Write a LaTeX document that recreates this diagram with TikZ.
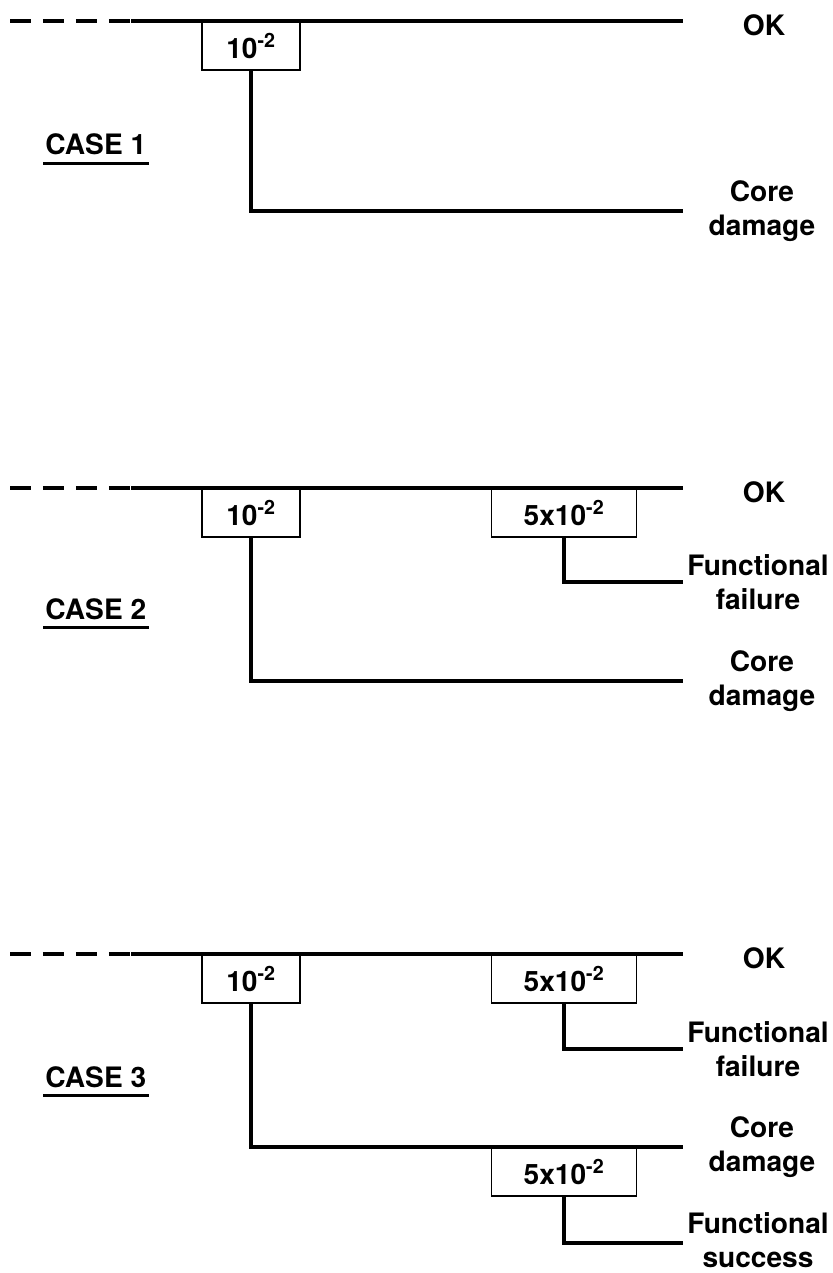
\documentclass[tikz,border=0pt]{standalone}
\usepackage{fontspec}
\setmainfont{TeX Gyre Heros}
\usetikzlibrary{positioning}
\tikzset{
  every picture/.style={line width=4.2pt},
  probbox/.style={draw, line width=1.5pt, anchor=north, inner sep=0pt, minimum width=#1, minimum height=1.44cm, font=\fontsize{24}{28}\selectfont\bfseries},
  probbox/.default=2.94cm,
  outcome/.style={align=center, font=\fontsize{24}{29}\selectfont\bfseries},
  lead/.style={dash pattern=on 17.9pt off 10.2pt},
  casetitle/.style={anchor=base west, inner sep=0pt, font=\fontsize{24}{28}\selectfont\bfseries,
    append after command={([yshift=-5pt]\tikzlastnode.south west) edge[line width=2.4pt] ([yshift=-5pt]\tikzlastnode.south east)}},
}

\begin{document}
\begin{tikzpicture}[x=0.03cm, y=-0.03cm]
  \useasboundingbox (0,0) rectangle (832,1273);

  % case 1
  \coordinate (c1start) at (10,21);
  \coordinate (c1dash) at (131,21);
  \coordinate (c1end) at (683,21);
  \coordinate (c1cd) at (683,211);
  \node[probbox] (c1p) at (251,21) {10\textsuperscript{-2}};
  \draw[lead] (c1start) -- (c1dash);
  \draw (c1dash) -- (c1end);
  \draw (c1p.south) |- (c1cd);
  \node[outcome] (c1ok) at (764,25) {OK};
  \node[outcome] (c1core) at (762,211) {Core\\damage};
  \node[casetitle] (c1title) at (43,155) {CASE 1};

  % case 2
  \coordinate (c2start) at (10,488);
  \coordinate (c2dash) at (131,488);
  \coordinate (c2end) at (683,488);
  \coordinate (c2ff) at (683,582);
  \coordinate (c2cd) at (683,681);
  \node[probbox] (c2p) at (251,488) {10\textsuperscript{-2}};
  \node[probbox=4.35cm] (c2q) at (564,488) {5x10\textsuperscript{-2}};
  \draw[lead] (c2start) -- (c2dash);
  \draw (c2dash) -- (c2end);
  \draw (c2q.south) |- (c2ff);
  \draw (c2p.south) |- (c2cd);
  \node[outcome] (c2ok) at (764,492) {OK};
  \node[outcome] (c2fail) at (758,582) {Functional\\failure};
  \node[outcome] (c2core) at (762,681) {Core\\damage};
  \node[casetitle] (c2title) at (43,619) {CASE 2};

  % case 3
  \coordinate (c3start) at (10,954);
  \coordinate (c3dash) at (131,954);
  \coordinate (c3end) at (683,954);
  \coordinate (c3ff) at (683,1049);
  \coordinate (c3cd) at (683,1147);
  \coordinate (c3fs) at (683,1243);
  \node[probbox] (c3p) at (251,954) {10\textsuperscript{-2}};
  \node[probbox=4.35cm] (c3q) at (564,954) {5x10\textsuperscript{-2}};
  \node[probbox=4.35cm] (c3r) at (564,1147) {5x10\textsuperscript{-2}};
  \draw[lead] (c3start) -- (c3dash);
  \draw (c3dash) -- (c3end);
  \draw (c3q.south) |- (c3ff);
  \draw (c3p.south) |- (c3cd);
  \draw (c3r.south) |- (c3fs);
  \node[outcome] (c3ok) at (764,958) {OK};
  \node[outcome] (c3fail) at (758,1049) {Functional\\failure};
  \node[outcome] (c3core) at (762,1147) {Core\\damage};
  \node[outcome] (c3succ) at (758,1240) {Functional\\success};
  \node[casetitle] (c3title) at (43,1087) {CASE 3};
\end{tikzpicture}
\end{document}
